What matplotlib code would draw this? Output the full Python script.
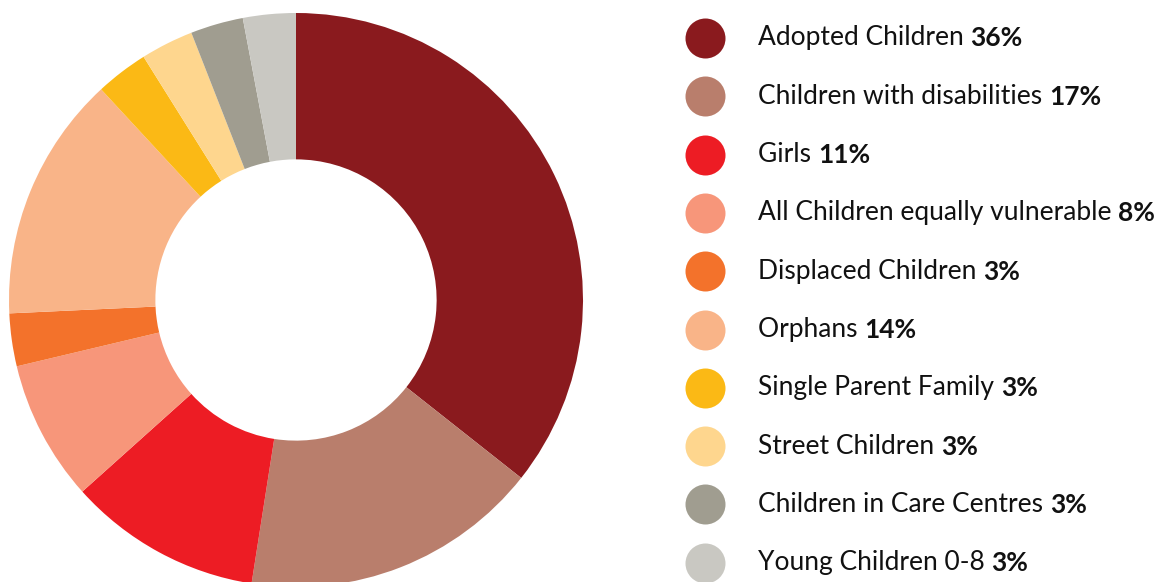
import matplotlib.pyplot as plt

groups = ['Adopted Children', 'Children with disabilities', 'Girls',
          'All Children equally vulnerable', 'Displaced Children', 'Orphans',
          'Single Parent Family', 'Street Children', 'Children in Care Centres',
          'Young Children 0-8']
shares = [36, 17, 11, 8, 3, 14, 3, 3, 3, 3]
colors = ['#8a1a1e', '#b97e6c', '#ed1c24', '#f7967a', '#f3722b', '#f9b488',
          '#fbb915', '#fed68e', '#a09d90', '#c9c8c2']

plt.rcParams['font.family'] = ['Lato', 'DejaVu Sans']

W, H = 1159, 582
fig = plt.figure(figsize=(W / 100, H / 100), dpi=100)

# donut, centre (296, 300) px from top-left, outer radius 287 px
cx, cy, r = 296, 300, 287
ax = fig.add_axes([(cx - r) / W, (H - cy - r) / H, 2 * r / W, 2 * r / H])
ax.pie(shares, colors=colors, startangle=90, counterclock=False, radius=1,
       wedgeprops=dict(width=0.51, linewidth=0))
ax.set_xlim(-1, 1)
ax.set_ylim(-1, 1)
ax.set_aspect('equal')
ax.axis('off')

# legend drawn in pixel coordinates
lg = fig.add_axes([0, 0, 1, 1])
lg.set_xlim(0, W)
lg.set_ylim(H, 0)
lg.axis('off')

y0, step = 38, 58.3
for i, (name, val, c) in enumerate(zip(groups, shares, colors)):
    y = y0 + i * step
    lg.scatter([705], [y], s=(40 * 0.72) ** 2, color=c, linewidths=0)
    t = lg.text(758, y, name + ' ', fontsize=19, va='center', ha='left', color='#111111')
    lg.annotate(f'{val}%', xy=(1, 0), xycoords=t, va='bottom', ha='left',
                fontsize=19, fontweight='bold', color='#111111')

fig.savefig('out.png', dpi=100)
